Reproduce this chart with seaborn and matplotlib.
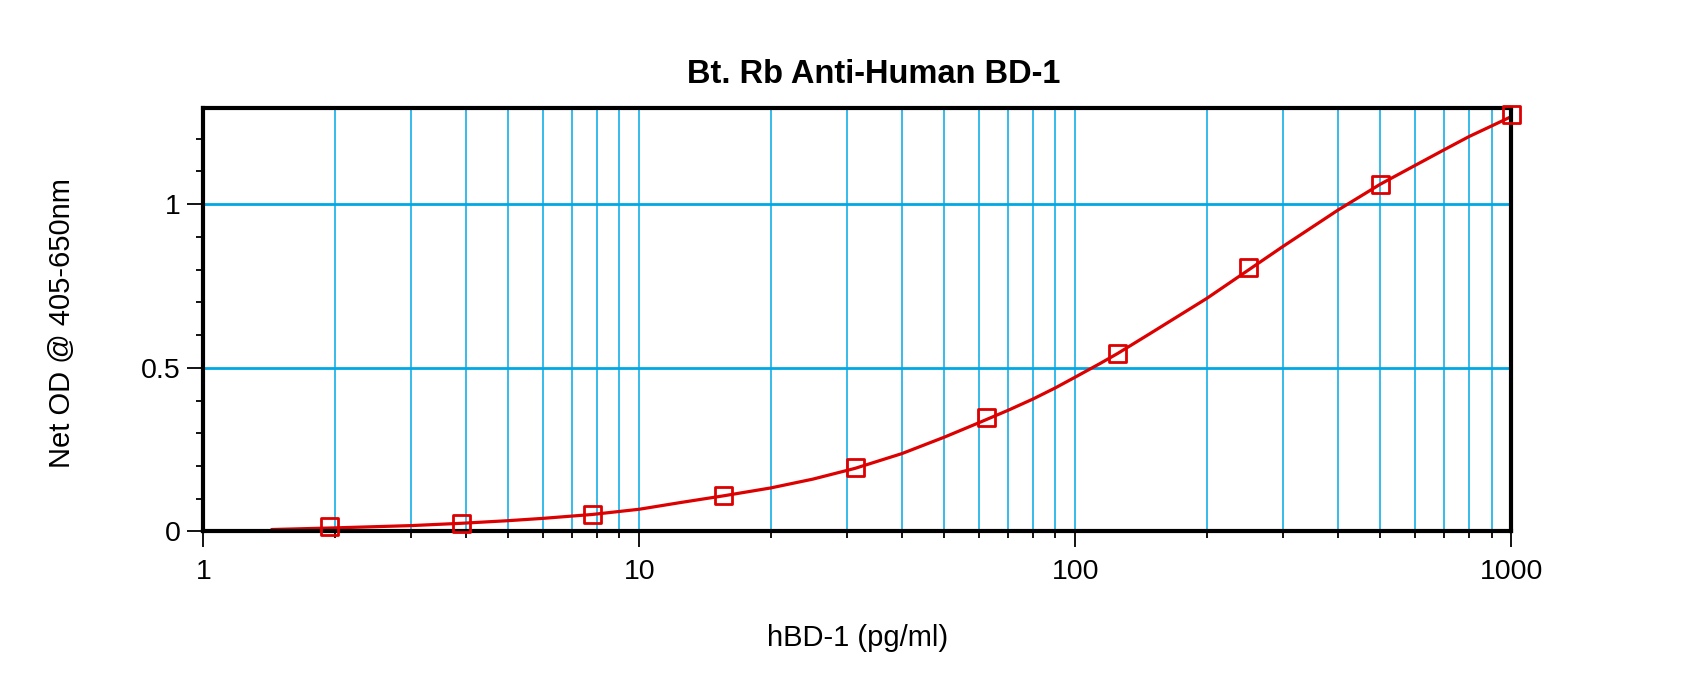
import numpy as np
import pandas as pd
import seaborn as sns
import matplotlib.pyplot as plt
from matplotlib.ticker import MultipleLocator, LogLocator, NullFormatter

# standards (pg/ml) and measured net OD
conc = [1.95, 3.9, 7.8, 15.6, 31.25, 62.5, 125, 250, 500, 1000]
od = [0.015, 0.025, 0.051, 0.110, 0.195, 0.347, 0.544, 0.806, 1.061, 1.273]

# fitted curve
fit_conc = [1.435, 2, 3, 3.9, 5, 6, 7.8, 10, 12.5, 15.6, 20, 25, 31.25, 40,
            50, 60, 70, 80, 90, 100, 113.8, 125, 148, 200, 250, 300, 400,
            500, 600, 700, 800, 900, 1000]
fit_od = [0.006, 0.011, 0.018, 0.025, 0.033, 0.040, 0.052, 0.068, 0.089,
          0.109, 0.133, 0.160, 0.193, 0.238, 0.288, 0.332, 0.370, 0.405,
          0.439, 0.472, 0.513, 0.544, 0.604, 0.712, 0.800, 0.872, 0.982,
          1.061, 1.118, 1.166, 1.207, 1.239, 1.268]

x_ticks = [1, 10, 100, 1000]
x_labels = ["1", "10", "100", "1000"]
y_ticks = [0, 0.5, 1]
y_labels = ["0", "0.5", "1"]

red = "#DD0000"
blue = "#00A8E4"

sns.set_style("white")
plt.rcParams['font.family'] = ['Liberation Sans', 'DejaVu Sans']
plt.rcParams['text.color'] = 'black'
plt.rcParams['axes.labelcolor'] = 'black'
plt.rcParams['xtick.color'] = 'black'
plt.rcParams['ytick.color'] = 'black'

fig = plt.figure(figsize=(17, 6.78), dpi=100)
ax = fig.add_axes([0.1196, 0.2161, 0.7695, 0.6251])

df_fit = pd.DataFrame({'conc': fit_conc, 'od': fit_od})
df_std = pd.DataFrame({'conc': conc, 'od': od})

sns.lineplot(data=df_fit, x='conc', y='od', color=red, linewidth=2.3, ax=ax)
sns.scatterplot(data=df_std, x='conc', y='od', marker='s', s=150, ax=ax)
pts = ax.collections[-1]
pts.set_facecolor('none')
pts.set_edgecolor(red)
pts.set_linewidth(2.0)
pts.set_clip_on(False)
pts.set_zorder(3)

ax.set_xscale('log')
ax.set_xlim(1, 1000)
ax.set_ylim(0, 1.295)
ax.set_xticks(x_ticks, x_labels)
ax.xaxis.set_minor_locator(LogLocator(base=10, subs=np.arange(2, 10)))
ax.xaxis.set_minor_formatter(NullFormatter())
ax.set_yticks(y_ticks, y_labels)
ax.yaxis.set_minor_locator(MultipleLocator(0.1))

ax.set_axisbelow(True)
ax.grid(which='major', axis='y', color=blue, linewidth=2.0)
ax.grid(which='both', axis='x', color=blue, linewidth=1.1)

for s in ax.spines.values():
    s.set_visible(True)
    s.set_color('black')
    s.set_linewidth(3)

ax.tick_params(which='both', left=True, bottom=True, direction='out',
               width=1.3, color='black')
ax.tick_params(which='major', length=11.5, labelsize=20.5)
ax.tick_params(which='minor', length=5)
ax.tick_params(axis='x', which='major', pad=8)
ax.tick_params(axis='y', which='major', pad=5)

ax.set_xlabel('hBD-1 (pg/ml)', fontsize=21)
ax.xaxis.set_label_coords(0.5004, -0.2702)
ax.xaxis.label.set_va('baseline')
ax.set_ylabel('Net OD @ 405-650nm', fontsize=21)
ax.yaxis.set_label_coords(-0.1019, 0.4913)
ax.yaxis.label.set_va('baseline')

ax.text(0.5127, 1.0576, 'Bt. Rb Anti-Human BD-1', transform=ax.transAxes,
        ha='center', va='baseline', fontsize=23.5, fontweight='bold')

fig.savefig('out.png', dpi=100)
